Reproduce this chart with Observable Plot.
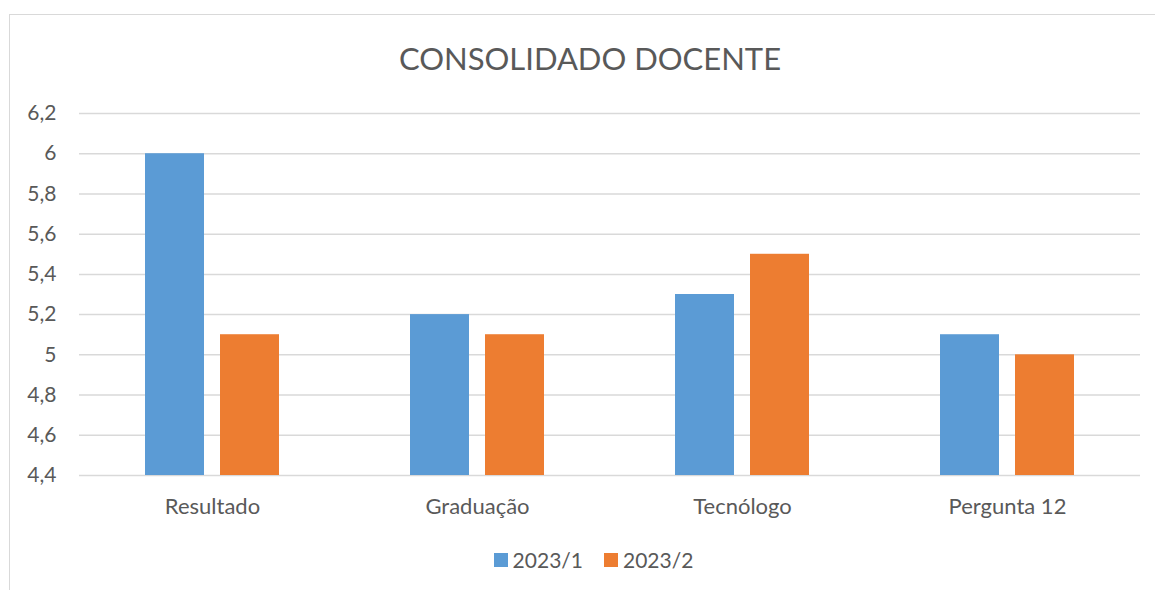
<!DOCTYPE html>
<html>
<head>
<meta charset="utf-8">
<script src="https://cdn.jsdelivr.net/npm/d3@7"></script>
<script src="https://cdn.jsdelivr.net/npm/@observablehq/plot@0.6"></script>
<style>
  html, body { margin: 0; padding: 0; background: #fff; }
  #wrap { position: relative; width: 1155px; height: 590px; overflow: hidden; font-family: Lato, "Open Sans", sans-serif; color: #595959; }
  #frame { position: absolute; left: 9px; top: 14px; width: 1200px; height: 600px; border-left: 1.5px solid #D9D9D9; border-top: 1.5px solid #D9D9D9; box-sizing: border-box; }
  #title { position: absolute; left: 0; width: 1180px; top: 38px; text-align: center; font-size: 31px; line-height: 40px; }
  #legend { position: absolute; left: 0; width: 1187px; top: 548px; display: flex; justify-content: center; gap: 21px; font-size: 21px; line-height: 24px; }
  .item { display: flex; align-items: center; gap: 5px; }
  .sw { width: 14px; height: 14px; display: inline-block; }
  #chart { position: absolute; left: 0; top: 0; }
</style>
</head>
<body>
<div id="wrap">
  <div id="frame"></div>
  <div id="chart"></div>
  <div id="title">CONSOLIDADO DOCENTE</div>
  <div id="legend"></div>
</div>
<script>
const categories = ["Resultado", "Graduação", "Tecnólogo", "Pergunta 12"];
const seriesNames = ["2023/1", "2023/2"];
const series1 = [6.0, 5.2, 5.3, 5.1];
const series2 = [5.1, 5.1, 5.5, 5.0];
const yTicks = [4.4, 4.6, 4.8, 5.0, 5.2, 5.4, 5.6, 5.8, 6.0, 6.2];
const colors = ["#5B9BD5", "#ED7D31"];

const yMin = yTicks[0];
const yMax = yTicks[yTicks.length - 1];
const d1 = categories.map((c, i) => ({category: c, value: series1[i]}));
const d2 = categories.map((c, i) => ({category: c, value: series2[i]}));
const fmt = d => String(+d.toFixed(1)).replace(".", ",");

const chart = Plot.plot({
  width: 1155,
  height: 590,
  marginLeft: 79,
  marginRight: 15,
  marginTop: 113,
  marginBottom: 115,
  style: {fontFamily: "Lato, 'Open Sans', sans-serif", fontSize: "21px", color: "#595959", background: "transparent"},
  x: {domain: categories, paddingInner: 0.4948, paddingOuter: 0.2474, label: null},
  y: {domain: [yMin, yMax], label: null},
  marks: [
    Plot.ruleY(yTicks, {stroke: "#D9D9D9", strokeWidth: 1.5}),
    Plot.barY(d1, {x: "category", y1: () => yMin, y2: "value", fill: colors[0], insetRight: 75}),
    Plot.barY(d2, {x: "category", y1: () => yMin, y2: "value", fill: colors[1], insetLeft: 75}),
    Plot.axisY({ticks: yTicks, tickFormat: fmt, tickSize: 0, tickPadding: 23, label: null, fontSize: 21}),
    Plot.axisX({tickSize: 0, tickPadding: 23, label: null, fontSize: 22})
  ]
});
document.getElementById("chart").appendChild(chart);

const legend = document.getElementById("legend");
seriesNames.forEach((name, i) => {
  const item = document.createElement("div");
  item.className = "item";
  const sw = document.createElement("span");
  sw.className = "sw";
  sw.style.background = colors[i];
  const t = document.createElement("span");
  t.textContent = name;
  item.appendChild(sw);
  item.appendChild(t);
  legend.appendChild(item);
});
</script>
</body>
</html>
